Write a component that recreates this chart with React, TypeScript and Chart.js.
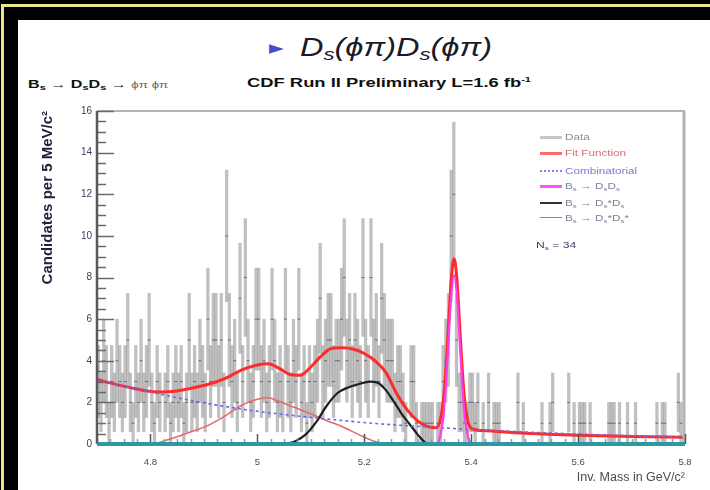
import React, { useEffect, useRef } from 'react';
import { Chart, registerables } from 'chart.js';

Chart.register(...registerables);

// ---- axis ranges and tick labels ----
const X_MIN = 4.7;
const X_MAX = 5.8;
const BIN_WIDTH = 0.005; // 5 MeV bins
const xTicks = [4.8, 5.0, 5.2, 5.4, 5.6, 5.8];
const yTicks = [0, 2, 4, 6, 8, 10, 12, 14, 16];
const xMinorStep = 0.025;
const yMinorStep = 0.5;

// ---- data: candidates per 5 MeV bin ----
// 4.700 – 4.975 GeV
const countsA = [
  3, 2, 4, 3, 1, 3, 2, 4, 3, 2,
  3, 5, 2, 1, 3, 2, 4, 2, 3, 5,
  2, 1, 3, 2, 0, 2, 3, 1, 2, 3,
  2, 3, 1, 2, 5, 2, 3, 2, 4, 3,
  2, 6, 3, 5, 5, 3, 5, 2, 10, 5,
  3, 4, 2, 7, 3,
];
// 4.975 – 5.250 GeV
const countsB = [
  8, 4, 2, 3, 6,
  6, 3, 4, 2, 3, 6, 4, 2, 3, 2,
  6, 3, 2, 4, 3, 6, 2, 3, 1, 3,
  2, 3, 4, 7, 3, 4, 5, 5, 3, 4,
  4, 6, 8, 4, 5, 3, 5, 4, 3, 8,
  4, 3, 8, 4, 5, 3, 7, 5, 4, 4,
];
// 5.250 – 5.525 GeV
const countsC = [
  4, 2, 3, 3, 2, 1, 0, 3, 3, 1,
  0, 1, 1, 1, 1, 1, 0, 1, 1, 3,
  4, 5, 10, 12, 5, 2, 2, 1, 1, 2,
  2, 1, 2, 0, 1, 0, 2, 0, 1, 1,
  1, 0, 0, 0, 0, 0, 0, 2, 0, 1,
  0, 0, 0, 0, 0,
];
// 5.525 – 5.800 GeV
const countsD = [
  0, 1, 0, 0, 1, 2, 0, 0, 0, 0,
  0, 2, 0, 1, 0, 1, 1, 1, 0, 1,
  0, 0, 0, 0, 0, 0, 1, 1, 1, 0,
  1, 0, 0, 1, 0, 0, 1, 0, 0, 0,
  0, 0, 0, 0, 1, 0, 1, 1, 0, 0,
  0, 0, 2, 1, 0,
];

// ---- fit curves ----
const fitX = [4.70, 4.73, 4.76, 4.79, 4.82, 4.85, 4.88, 4.91, 4.94, 4.97, 5.00, 5.02, 5.04, 5.06, 5.08, 5.10, 5.12, 5.14, 5.16, 5.18, 5.20, 5.22, 5.24, 5.26, 5.28, 5.30, 5.32, 5.335, 5.343, 5.348, 5.353, 5.358, 5.363, 5.368, 5.373, 5.378, 5.383, 5.388, 5.393, 5.40, 5.42, 5.45, 5.50, 5.60, 5.70, 5.80];
const fitY = [3.10, 2.90, 2.72, 2.56, 2.50, 2.55, 2.70, 2.88, 3.15, 3.55, 3.80, 3.85, 3.65, 3.35, 3.30, 3.70, 4.25, 4.60, 4.62, 4.55, 4.35, 4.00, 3.45, 2.45, 1.65, 1.10, 0.82, 0.78, 1.25, 2.10, 3.70, 5.90, 8.00, 8.90, 8.00, 5.90, 3.70, 2.05, 1.20, 0.75, 0.65, 0.60, 0.52, 0.42, 0.36, 0.32];

const combX = [4.70, 4.75, 4.80, 4.85, 4.90, 4.95, 5.00, 5.05, 5.10, 5.15, 5.20, 5.25, 5.30, 5.35, 5.40, 5.50, 5.60, 5.70, 5.80];
const combY = [3.10, 2.78, 2.50, 2.22, 1.98, 1.76, 1.57, 1.42, 1.28, 1.15, 1.03, 0.93, 0.85, 0.77, 0.70, 0.58, 0.48, 0.40, 0.33];

const dsdsX = [5.338, 5.343, 5.348, 5.353, 5.358, 5.363, 5.368, 5.373, 5.378, 5.383, 5.388, 5.393, 5.398];
const dsdsY = [0.05, 0.48, 1.32, 2.92, 5.15, 7.23, 8.10, 7.23, 5.15, 2.92, 1.32, 0.48, 0.05];

const dsStarDsX = [5.05, 5.07, 5.09, 5.11, 5.13, 5.15, 5.17, 5.19, 5.21, 5.225, 5.24, 5.255, 5.27, 5.285, 5.30, 5.315, 5.32];
const dsStarDsY = [0.0, 0.12, 0.45, 1.05, 1.85, 2.45, 2.72, 2.88, 3.0, 2.95, 2.6, 2.05, 1.45, 0.95, 0.45, 0.05, 0.0];

const dsStarDsStarX = [4.80, 4.82, 4.85, 4.88, 4.91, 4.94, 4.97, 5.00, 5.02, 5.04, 5.07, 5.10, 5.13, 5.16, 5.19, 5.22, 5.24];
const dsStarDsStarY = [0.0, 0.1, 0.35, 0.62, 0.92, 1.35, 1.85, 2.15, 2.22, 2.05, 1.75, 1.45, 1.12, 0.82, 0.45, 0.12, 0.0];

const FONT = '"Liberation Sans", Arial, Helvetica, sans-serif';

const toPts = (xs: number[], ys: number[]) => xs.map((x, i) => ({ x, y: ys[i] }));

const counts = [...countsA, ...countsB, ...countsC, ...countsD];
const errBars = counts
  .map((n, i) => ({ n, x: X_MIN + BIN_WIDTH * (i + 0.5) }))
  .filter((d) => d.n > 0)
  .map((d) => ({ x: d.x, y: [d.n - Math.sqrt(d.n), d.n + Math.sqrt(d.n)] }));
const markers = counts
  .map((n, i) => ({ x: X_MIN + BIN_WIDTH * (i + 0.5), y: n }))
  .filter((d) => d.y > 0);

const framePlugin = {
  id: 'rootFrame',
  afterDatasetsDraw(chart: any) {
    const { ctx, chartArea: a, scales } = chart;
    const xs = scales.x;
    const ys = scales.y;
    ctx.save();
    // top & right frame
    ctx.strokeStyle = '#b4b4b4';
    ctx.lineWidth = 2;
    ctx.beginPath();
    ctx.moveTo(a.left, a.top);
    ctx.lineTo(a.right, a.top);
    ctx.stroke();
    ctx.lineWidth = 3;
    ctx.beginPath();
    ctx.moveTo(a.right - 1, a.top);
    ctx.lineTo(a.right - 1, a.bottom);
    ctx.stroke();
    // y ticks (inside)
    ctx.strokeStyle = '#6a6a6a';
    ctx.lineWidth = 1.5;
    const yMax = yTicks[yTicks.length - 1];
    for (let v = 0; v <= yMax + 1e-9; v += yMinorStep) {
      const py = Math.round(ys.getPixelForValue(v)) + 0.5;
      const major = yTicks.some((t) => Math.abs(t - v) < 1e-6);
      ctx.beginPath();
      ctx.moveTo(a.left, py);
      ctx.lineTo(a.left + (major ? 17 : 9), py);
      ctx.stroke();
    }
    // x ticks (inside)
    for (let v = X_MIN; v <= X_MAX + 1e-9; v += xMinorStep) {
      const px = Math.round(xs.getPixelForValue(v)) + 0.5;
      const major = xTicks.some((t) => Math.abs(t - v) < 1e-6);
      ctx.strokeStyle = major ? '#555' : '#999';
      ctx.beginPath();
      ctx.moveTo(px, a.bottom);
      ctx.lineTo(px, a.bottom - (major ? 10 : 5));
      ctx.stroke();
    }
    // y axis line
    ctx.strokeStyle = '#5a5a5a';
    ctx.lineWidth = 2.5;
    ctx.beginPath();
    ctx.moveTo(a.left, a.top);
    ctx.lineTo(a.left, a.bottom);
    ctx.stroke();
    // teal baseline
    ctx.strokeStyle = '#2b98a2';
    ctx.lineWidth = 4;
    ctx.beginPath();
    ctx.moveTo(a.left, a.bottom);
    ctx.lineTo(a.right, a.bottom);
    ctx.stroke();
    ctx.restore();
  },
};

const stretch = (k: number): React.CSSProperties => ({
  display: 'inline-block',
  transform: `scaleX(${k})`,
  transformOrigin: 'left center',
  whiteSpace: 'nowrap',
});

const subS: React.CSSProperties = { fontSize: '0.68em', verticalAlign: '-0.25em', lineHeight: 0 };

function LegendRow({ y, line, children, color }: { y: number; line: React.CSSProperties; children: React.ReactNode; color: string }) {
  return (
    <>
      <div style={{ position: 'absolute', left: 540, top: y, width: 22, height: 0, ...line }} />
      <div style={{ position: 'absolute', left: 565, top: y - 7, height: 14, lineHeight: '14px', fontFamily: FONT, fontSize: 9, color }}>
        <span style={stretch(1.3)}>{children}</span>
      </div>
    </>
  );
}

export default function App() {
  const ref = useRef<HTMLCanvasElement>(null);

  useEffect(() => {
    const chart = new Chart(ref.current as HTMLCanvasElement, {
      type: 'bar',
      data: {
        datasets: [
          {
            type: 'line',
            label: 'Combinatorial',
            data: toPts(combX, combY),
            borderColor: '#6a6af0',
            borderWidth: 1.6,
            borderDash: [3, 3],
            pointRadius: 0,
            cubicInterpolationMode: 'monotone',
            order: 2,
          } as any,
          {
            type: 'line',
            label: 'Bs -> DsDs',
            data: toPts(dsdsX, dsdsY),
            borderColor: '#ff3cf0',
            borderWidth: 2.2,
            pointRadius: 0,
            cubicInterpolationMode: 'monotone',
            order: 1,
          } as any,
          {
            type: 'line',
            label: 'Bs -> Ds*Ds',
            data: toPts(dsStarDsX, dsStarDsY),
            borderColor: '#1e1e1e',
            borderWidth: 2.2,
            pointRadius: 0,
            cubicInterpolationMode: 'monotone',
            order: 3,
          } as any,
          {
            type: 'line',
            label: 'Bs -> Ds*Ds*',
            data: toPts(dsStarDsStarX, dsStarDsStarY),
            borderColor: '#e46a6a',
            borderWidth: 1.6,
            pointRadius: 0,
            cubicInterpolationMode: 'monotone',
            order: 3,
          } as any,
          {
            type: 'line',
            label: 'Fit Function',
            data: toPts(fitX, fitY),
            borderColor: '#ff2a2a',
            borderWidth: 3,
            pointRadius: 0,
            cubicInterpolationMode: 'monotone',
            order: 4,
          } as any,
          {
            type: 'line',
            label: 'Data value',
            data: markers,
            showLine: false,
            pointStyle: 'line',
            pointRadius: 1.4,
            borderColor: 'rgba(80,80,80,0.8)',
            borderWidth: 1,
            order: 9,
          } as any,
          {
            type: 'bar',
            label: 'Data',
            data: errBars as any,
            backgroundColor: 'rgba(140,140,140,0.55)',
            borderWidth: 0,
            barThickness: 2.6,
            grouped: false,
            order: 10,
          } as any,
        ],
      },
      options: {
        responsive: false,
        animation: false,
        events: [],
        layout: { padding: { top: 111, right: 25, left: 0, bottom: 0 } },
        plugins: {
          legend: { display: false },
          tooltip: { enabled: false },
          title: { display: false },
        },
        scales: {
          x: {
            type: 'linear',
            min: X_MIN,
            max: X_MAX,
            offset: false,
            grid: { display: false, drawTicks: false },
            border: { display: false },
            afterBuildTicks: (s: any) => {
              s.ticks = xTicks.map((v) => ({ value: v }));
            },
            afterFit: (s: any) => {
              s.height = 46;
            },
            ticks: {
              padding: 13,
              color: '#4a4a58',
              font: { family: FONT, size: 9.5 },
              maxRotation: 0,
              autoSkip: false,
              callback: (v: any) => String(Number(Number(v).toFixed(1))),
            },
            title: {
              display: true,
              text: 'Inv. Mass in GeV/c²',
              align: 'end',
              color: '#4a4a58',
              font: { family: FONT, size: 12.5 },
              padding: { top: 0, bottom: 4.5 },
            },
          },
          y: {
            type: 'linear',
            min: 0,
            max: 16,
            grid: { display: false, drawTicks: false },
            border: { display: false },
            afterBuildTicks: (s: any) => {
              s.ticks = yTicks.map((v) => ({ value: v }));
            },
            afterFit: (s: any) => {
              s.width = 97;
            },
            ticks: {
              padding: 5,
              color: '#3a3f58',
              font: { family: FONT, size: 10 },
              autoSkip: false,
            },
            title: {
              display: true,
              text: 'Candidates per 5 MeV/c²',
              align: 'end',
              color: '#1f2238',
              font: { family: FONT, size: 15, weight: 'bold' },
              padding: { top: 39, bottom: 0 },
            },
          },
        },
      } as any,
      plugins: [framePlugin],
    });
    return () => chart.destroy();
  }, []);

  return (
    <div style={{ position: 'fixed', left: 0, top: 0, width: 710, height: 490, background: '#000', overflow: 'hidden' }}>
      <div style={{ position: 'absolute', left: 1, top: 4, width: 3, height: 486, background: '#ece489' }} />
      <div style={{ position: 'absolute', left: 1, top: 4, width: 709, height: 3, background: '#ece489' }} />
      <div style={{ position: 'absolute', left: 18, top: 20, width: 692, height: 470, background: '#fff' }} />

      <div style={{ position: 'absolute', left: 269, top: 37, fontSize: 19, lineHeight: '20px', color: '#4a4acc', fontFamily: '"DejaVu Sans", sans-serif' }}>►</div>
      <div style={{ position: 'absolute', left: 300, top: 29, fontSize: 25, lineHeight: '36px', color: '#1a1a2a', fontFamily: FONT, fontStyle: 'italic' }}>
        <span style={stretch(1.3)}>
          D<span style={subS}>s</span>(ϕπ)D<span style={subS}>s</span>(ϕπ)
        </span>
      </div>

      <div style={{ position: 'absolute', left: 28, top: 76, fontSize: 11.5, lineHeight: '16px', color: '#111', fontFamily: FONT, fontWeight: 'bold' }}>
        <span style={stretch(1.4)}>
          B<span style={subS}>s</span> → D<span style={subS}>s</span>D<span style={subS}>s</span> →{' '}
          <span style={{ fontWeight: 400, fontSize: 9.5, color: '#666' }}>ϕπ ϕπ</span>
        </span>
      </div>
      <div style={{ position: 'absolute', left: 247, top: 75, fontSize: 12.5, lineHeight: '16px', color: '#111', fontFamily: FONT, fontWeight: 'bold' }}>
        <span style={stretch(1.47)}>
          CDF Run II Preliminary L=1.6 fb<sup style={{ fontSize: '0.6em', lineHeight: 0 }}>-1</sup>
        </span>
      </div>

      <canvas ref={ref} width={710} height={490} style={{ position: 'absolute', left: 0, top: 0, width: 710, height: 490 }} />

      <LegendRow y={137} color="#8a8a9c" line={{ borderTop: '3px solid #c6c6c6', marginTop: -1.5 }}>Data</LegendRow>
      <LegendRow y={153} color="#d86a78" line={{ borderTop: '3px solid #ff6a6a', marginTop: -1.5 }}>Fit Function</LegendRow>
      <LegendRow y={171} color="#7a7ad0" line={{ borderTop: '2px dotted #8080ff', marginTop: -1 }}>Combinatorial</LegendRow>
      <LegendRow y={186} color="#80809a" line={{ borderTop: '3px solid #ff50ff', marginTop: -1.5 }}>
        B<span style={subS}>s</span> → D<span style={subS}>s</span>D<span style={subS}>s</span>
      </LegendRow>
      <LegendRow y={203} color="#80809a" line={{ borderTop: '2.5px solid #333', marginTop: -1.25 }}>
        B<span style={subS}>s</span> → D<span style={subS}>s</span>*D<span style={subS}>s</span>
      </LegendRow>
      <LegendRow y={218} color="#80809a" line={{ borderTop: '1.5px solid #e06060', marginTop: -0.75 }}>
        B<span style={subS}>s</span> → D<span style={subS}>s</span>*D<span style={subS}>s</span>*
      </LegendRow>
      <div style={{ position: 'absolute', left: 536, top: 238, lineHeight: '14px', fontFamily: FONT, fontSize: 9, color: '#3a3f70' }}>
        <span style={stretch(1.35)}>
          N<span style={subS}>s</span> = 34
        </span>
      </div>
    </div>
  );
}
